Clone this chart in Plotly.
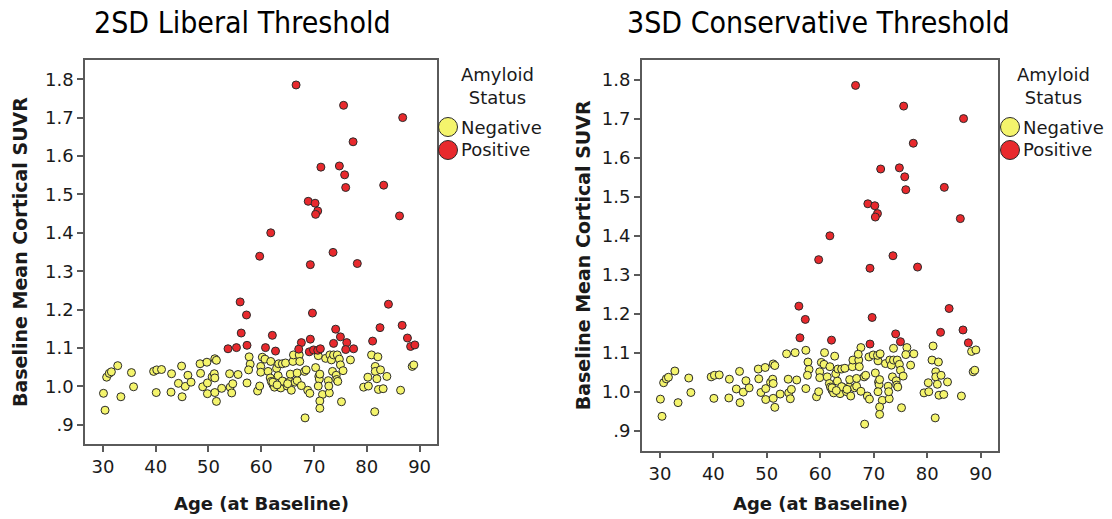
import plotly.graph_objects as go

# ---------------- data ----------------
age_neg = [30.1, 30.4, 30.7, 31.2, 31.6, 32.8, 33.4, 35.4, 35.8,
           39.6, 40.2, 41.1, 40.1, 43.0, 42.9, 44.3, 44.9, 45.0, 45.6, 46.1, 46.7,
           48.4, 48.5, 48.9, 49.7, 49.8, 49.8, 50.7, 51.1, 51.2, 51.5, 51.2, 51.2, 51.5, 52.5,
           54.0, 54.1, 54.6, 54.4, 55.6,
           57.7, 57.9, 57.6, 57.3, 59.3, 59.7, 59.9, 59.9, 60.2, 60.7, 61.3, 61.8, 61.7, 61.9,
           62.2, 62.5, 62.9, 63.2, 63.3, 63.7, 64.0, 64.1, 64.6, 64.9, 65.4, 65.5, 65.7, 66.0,
           66.1, 66.4, 66.8, 66.8, 67.2, 67.3, 68.2, 68.5, 68.8, 69.2, 70.3, 70.8, 70.9, 71.0,
           71.1, 70.8, 71.6, 72.9, 71.1, 71.1, 72.2, 72.7, 72.8, 73.0, 73.3, 73.5, 73.7, 74.2,
           74.3, 74.4, 74.5, 74.8, 75.0, 75.2, 75.5, 76.9, 79.4, 80.3, 80.2, 80.9, 81.6, 82.1,
           81.6, 81.9, 82.6, 82.2, 83.1, 83.8, 86.4, 81.5, 68.3, 88.6, 88.9,
           62.2, 64.0, 65.0, 63.0, 67.6]
suvr_neg = [0.982, 0.938, 1.024, 1.034, 1.038, 1.054, 0.973, 1.036, 0.999,
            1.039, 1.043, 1.044, 0.984, 1.033, 0.985, 1.008, 1.053, 0.973, 1.000, 1.029, 1.011,
            1.059, 1.034, 0.999, 1.063, 1.009, 0.981, 1.025, 1.033, 1.072, 1.068, 1.022, 0.984, 0.961, 0.995,
            1.033, 0.998, 1.007, 0.983, 1.031,
            1.077, 1.058, 1.043, 1.009, 0.988, 1.001, 1.052, 1.037, 1.076, 1.071, 1.039, 1.065, 1.022, 1.013,
            1.005, 0.998, 1.047, 1.028, 1.059, 0.996, 1.059, 1.013, 1.061, 1.001, 1.013, 1.032, 0.990, 1.065,
            1.082, 1.011, 1.015, 1.035, 1.082, 1.065, 1.039, 1.043, 0.990, 0.982, 1.049, 1.080, 1.026, 1.019,
            1.032, 1.001, 0.979, 0.983, 0.962, 0.943, 1.073, 1.015, 1.001, 1.082, 1.069, 1.039, 1.082, 1.029,
            1.018, 1.082, 1.013, 1.071, 1.056, 0.960, 1.041, 1.069, 0.998, 1.001, 1.024, 1.082, 1.052, 1.077,
            1.039, 1.020, 1.043, 0.992, 0.994, 1.026, 0.990, 0.934, 0.918, 1.052, 1.056,
            1.011, 1.014, 1.007, 1.004, 1.002]

age_pos = [61.8, 66.6, 75.6, 86.8, 77.4, 71.3, 74.8, 75.8, 76.0, 83.2, 68.9, 70.2, 70.7, 70.3,
           86.2, 73.6, 59.7, 69.3, 78.2, 84.1, 56.0, 57.2, 69.7, 86.7, 82.5, 74.1, 56.2, 62.1,
           87.7, 75.0, 69.3,
           73.7, 76.2, 67.6, 53.7, 55.3, 57.3, 60.8, 62.7, 67.1, 88.3, 89.1, 81.1, 76.0, 77.5,
           69.1, 69.9, 70.7, 71.2]
suvr_pos = [1.400, 1.785, 1.732, 1.700, 1.637, 1.571, 1.574, 1.551, 1.518, 1.524, 1.482, 1.477, 1.457, 1.448,
            1.444, 1.349, 1.339, 1.317, 1.320, 1.214, 1.220, 1.186, 1.191, 1.159, 1.153, 1.149, 1.139, 1.133,
            1.126, 1.129, 1.123,
            1.112, 1.114, 1.114, 1.098, 1.101, 1.107, 1.101, 1.092, 1.097, 1.104, 1.108, 1.118, 1.096, 1.098,
            1.090, 1.095, 1.094, 1.098]

ages = age_neg + age_pos
suvr = suvr_neg + suvr_pos

thresholds = [1.085, 1.121]          # 2SD liberal, 3SD conservative
panel_titles = ["2SD Liberal Threshold", "3SD Conservative Threshold"]
status_labels = ["Negative", "Positive"]
y_tickvals = [0.9, 1.0, 1.1, 1.2, 1.3, 1.4, 1.5, 1.6, 1.7, 1.8]
y_ticktext = [".9", "1.0", "1.1", "1.2", "1.3", "1.4", "1.5", "1.6", "1.7", "1.8"]
x_tickvals = [30, 40, 50, 60, 70, 80, 90]

# ---------------- styling ----------------
W, H = 1112, 519
YELLOW = "#F4F46C"
RED = "#E8292D"
EDGE = "#2b2b2b"
FRAME = "#5a5a5a"
TXT = "#1a1a1a"
TICKFONT = dict(family="DejaVu Sans, Verdana, sans-serif", size=18, color=TXT)

def px(x):
    return x / W

def py(y):
    return 1 - y / H

panels = [
    dict(x0=85, x1=437, y0=60, y1=444, title_x=242, ytitle_x=20, leg_x=448, leg_title_x=497),
    dict(x0=641.7, x1=998.3, y0=60, y1=450.7, title_x=818, ytitle_x=583, leg_x=1010, leg_title_x=1053),
]

fig = go.Figure()

for i, (thr, p) in enumerate(zip(thresholds, panels)):
    xa = "x" if i == 0 else "x2"
    ya = "y" if i == 0 else "y2"
    neg_x = [a for a, s in zip(ages, suvr) if s < thr]
    neg_y = [s for s in suvr if s < thr]
    pos_x = [a for a, s in zip(ages, suvr) if s >= thr]
    pos_y = [s for s in suvr if s >= thr]
    for xs, ys, col, name in [(neg_x, neg_y, YELLOW, status_labels[0]),
                              (pos_x, pos_y, RED, status_labels[1])]:
        fig.add_trace(go.Scatter(
            x=xs, y=ys, mode="markers", name=name, showlegend=False,
            xaxis=xa, yaxis=ya,
            marker=dict(size=8, color=col, line=dict(color=EDGE, width=1)),
        ))

axis_common = dict(showgrid=False, zeroline=False, showline=True, mirror=True,
                   linecolor=FRAME, linewidth=1.5, ticks="outside", ticklen=6,
                   tickcolor=FRAME, tickwidth=1.5, tickfont=TICKFONT)

layout = dict(
    width=W, height=H, autosize=False,
    margin=dict(l=0, r=0, t=0, b=0),
    paper_bgcolor="white", plot_bgcolor="white",
    showlegend=False,
)

for i, p in enumerate(panels):
    sx = "" if i == 0 else "2"
    layout["xaxis" + sx] = dict(axis_common, domain=[px(p["x0"]), px(p["x1"])],
                                range=[26.6, 93.3], tickvals=x_tickvals,
                                anchor="y" + sx)
    layout["yaxis" + sx] = dict(axis_common, domain=[py(p["y1"]), py(p["y0"])],
                                range=[0.85, 1.85], tickvals=y_tickvals,
                                ticktext=y_ticktext, anchor="x" + sx)

fig.update_layout(**layout)

annotations = []
shapes = []
for i, p in enumerate(panels):
    cx = (p["x0"] + p["x1"]) / 2
    cy = (p["y0"] + p["y1"]) / 2
    annotations.append(dict(text=panel_titles[i], xref="paper", yref="paper",
                            x=px(p["title_x"]), y=py(23), xanchor="center", yanchor="middle",
                            showarrow=False,
                            font=dict(family="Liberation Sans Narrow, DejaVu Sans Condensed, Open Sans, sans-serif",
                                      size=30, color="black")))
    annotations.append(dict(text="<b>Baseline Mean Cortical SUVR</b>", xref="paper", yref="paper",
                            x=px(p["ytitle_x"]), y=py(cy), xanchor="center", yanchor="middle",
                            textangle=-90, showarrow=False,
                            font=dict(family="DejaVu Sans, Verdana, sans-serif", size=19, color=TXT)))
    annotations.append(dict(text="<b>Age (at Baseline)</b>", xref="paper", yref="paper",
                            x=px(cx), y=py(503), xanchor="center", yanchor="middle",
                            showarrow=False,
                            font=dict(family="DejaVu Sans, Verdana, sans-serif", size=18, color=TXT)))
    # legend
    annotations.append(dict(text="Amyloid<br>Status", xref="paper", yref="paper",
                            x=px(p["leg_title_x"]), y=py(86), xanchor="center", yanchor="middle",
                            showarrow=False, align="center",
                            font=dict(family="DejaVu Sans, Verdana, sans-serif", size=18, color=TXT)))
    for k, (lab, col) in enumerate(zip(status_labels, [YELLOW, RED])):
        yy = 127 + k * 23
        shapes.append(dict(type="circle", xref="paper", yref="paper",
                           xsizemode="pixel", ysizemode="pixel",
                           xanchor=px(p["leg_x"]), yanchor=py(yy),
                           x0=-9.5, x1=9.5, y0=-9.5, y1=9.5,
                           fillcolor=col, line=dict(color=EDGE, width=1)))
        annotations.append(dict(text=lab, xref="paper", yref="paper",
                                x=px(p["leg_x"] + 11), y=py(yy), xanchor="left", yanchor="middle",
                                showarrow=False,
                                font=dict(family="DejaVu Sans, Verdana, sans-serif", size=18, color=TXT)))

fig.update_layout(annotations=annotations, shapes=shapes)

fig.write_html("out.html",
               config={"displayModeBar": False},
               post_script="document.body.style.margin='0';document.body.style.padding='0';"
                           "document.body.style.overflow='hidden';")
